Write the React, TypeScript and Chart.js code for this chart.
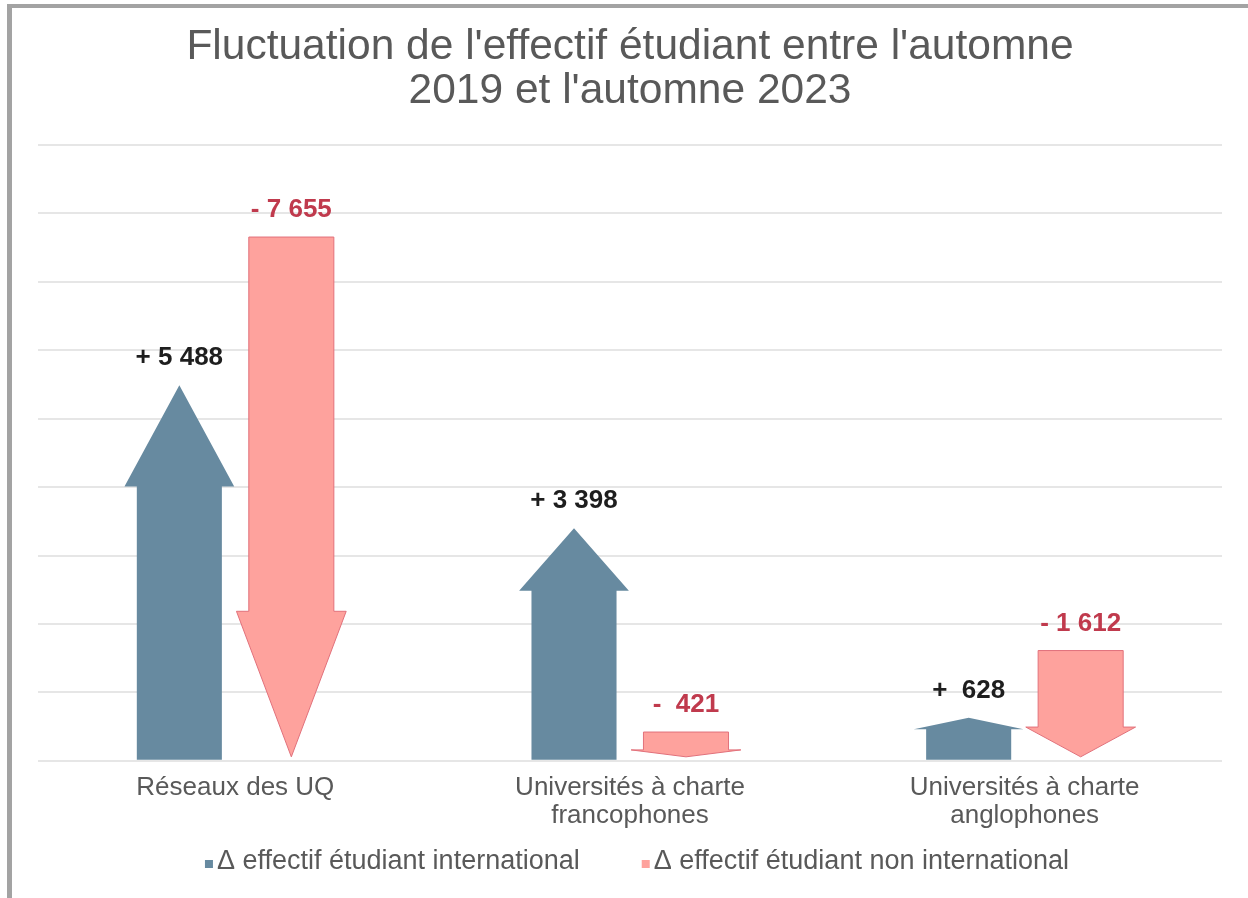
import React, { useEffect, useRef } from "react";
import { Chart, registerables } from "chart.js";

Chart.register(...registerables);

const TITLE_LINES = [
  "Fluctuation de l'effectif étudiant entre l'automne",
  "2019 et l'automne 2023",
];
const CATEGORIES = [
  ["Réseaux des UQ"],
  ["Universités à charte", "francophones"],
  ["Universités à charte", "anglophones"],
];
const SERIES_NAMES = [
  "Δ effectif étudiant international",
  "Δ effectif étudiant non international",
];
const DELTA_INTERNATIONAL = [5488, 3398, 628];
const DELTA_NON_INTERNATIONAL = [-7655, -421, -1612];
const Y_MIN = 0;
const Y_MAX = 9000;
const Y_STEP = 1000;

const SIGNED_SERIES = [DELTA_INTERNATIONAL, DELTA_NON_INTERNATIONAL];

const FONT = "'Liberation Sans', Arial, Helvetica, sans-serif";
const BLUE = "#678aa0";
const PINK = "#fea29d";
const PINK_EDGE = "#e2717b";
const LABEL_COLORS = ["#1e1e1e", "#c03a4d"];
const GREY_TEXT = "#595959";

function fmtDelta(v: number): string {
  const sign = v < 0 ? "-" : "+";
  const a = Math.abs(v);
  const th = Math.floor(a / 1000);
  const rest = a % 1000;
  const restStr = th > 0 ? String(rest).padStart(3, "0") : String(rest);
  return `${sign} ${th > 0 ? th : ""} ${restStr}`;
}

const framePlugin = {
  id: "frame",
  beforeDraw(chart: any) {
    const { ctx, width, height } = chart;
    ctx.save();
    ctx.fillStyle = "#ffffff";
    ctx.fillRect(0, 0, width, height);
    ctx.fillStyle = "#a3a3a3";
    ctx.fillRect(7, 4, width - 7, 4);
    ctx.fillRect(7, 4, 5, height - 4);
    ctx.restore();
  },
};

const arrowPlugin = {
  id: "arrows",
  beforeDatasetDraw(chart: any, args: any) {
    const { ctx } = chart;
    const up = args.index === 0;
    args.meta.data.forEach((el: any) => {
      const { x, y, base, width } = el.getProps(["x", "y", "base", "width"], true);
      const shaft = width * 0.775;
      ctx.save();
      ctx.beginPath();
      if (up) {
        const h = base - y;
        const hb = y + h * 0.27;
        ctx.moveTo(x - shaft / 2, base);
        ctx.lineTo(x - shaft / 2, hb);
        ctx.lineTo(x - width / 2, hb);
        ctx.lineTo(x, y);
        ctx.lineTo(x + width / 2, hb);
        ctx.lineTo(x + shaft / 2, hb);
        ctx.lineTo(x + shaft / 2, base);
        ctx.closePath();
        ctx.fillStyle = BLUE;
        ctx.fill();
      } else {
        const tip = base - 3;
        const h = tip - y;
        const hb = y + h * 0.72;
        ctx.moveTo(x - shaft / 2, y);
        ctx.lineTo(x + shaft / 2, y);
        ctx.lineTo(x + shaft / 2, hb);
        ctx.lineTo(x + width / 2, hb);
        ctx.lineTo(x, tip);
        ctx.lineTo(x - width / 2, hb);
        ctx.lineTo(x - shaft / 2, hb);
        ctx.closePath();
        ctx.fillStyle = PINK;
        ctx.fill();
        ctx.lineWidth = 1;
        ctx.strokeStyle = PINK_EDGE;
        ctx.stroke();
      }
      ctx.restore();
    });
    return false;
  },
  afterDraw(chart: any) {
    const { ctx } = chart;
    ctx.save();
    ctx.font = `bold 26px ${FONT}`;
    ctx.textAlign = "center";
    ctx.textBaseline = "middle";
    chart.data.datasets.forEach((ds: any, di: number) => {
      const meta = chart.getDatasetMeta(di);
      meta.data.forEach((el: any, i: number) => {
        const { x, y } = el.getProps(["x", "y"], true);
        ctx.fillStyle = LABEL_COLORS[di];
        ctx.fillText(fmtDelta(SIGNED_SERIES[di][i]), x, y - 27);
      });
    });
    ctx.restore();
  },
};

const legendPlugin = {
  id: "customLegend",
  afterDraw(chart: any) {
    const { ctx, chartArea } = chart;
    ctx.save();
    ctx.font = `27px ${FONT}`;
    ctx.textBaseline = "middle";
    ctx.textAlign = "left";
    const box = 8;
    const gap = 4;
    const itemGap = 62;
    const widths = chart.data.datasets.map((ds: any) => ctx.measureText(ds.label).width);
    const total = widths.reduce((s: number, w: number) => s + box + gap + w, 0) + itemGap * (widths.length - 1);
    const cy = 862;
    let x = (chartArea.left + chartArea.right) / 2 + 7 - total / 2;
    chart.data.datasets.forEach((ds: any, i: number) => {
      ctx.fillStyle = ds.backgroundColor;
      ctx.fillRect(x, cy - box / 2 + 2, box, box);
      x += box + gap;
      ctx.fillStyle = GREY_TEXT;
      ctx.fillText(ds.label, x, cy);
      x += widths[i] + itemGap;
    });
    ctx.restore();
  },
};

export default function App() {
  const ref = useRef<HTMLCanvasElement | null>(null);

  useEffect(() => {
    if (!ref.current) return;
    Chart.defaults.font.family = FONT;
    const chart = new Chart(ref.current, {
      type: "bar",
      data: {
        labels: CATEGORIES,
        datasets: [
          {
            label: SERIES_NAMES[0],
            data: DELTA_INTERNATIONAL.map((v) => Math.abs(v)),
            backgroundColor: BLUE,
            barPercentage: 0.98,
            categoryPercentage: 0.5675,
          },
          {
            label: SERIES_NAMES[1],
            data: DELTA_NON_INTERNATIONAL.map((v) => Math.abs(v)),
            backgroundColor: PINK,
            barPercentage: 0.98,
            categoryPercentage: 0.5675,
          },
        ],
      },
      options: {
        responsive: false,
        animation: false,
        layout: { padding: { left: 38, right: 26, top: 0, bottom: 55 } },
        plugins: {
          legend: { display: false },
          tooltip: { enabled: false },
          title: {
            display: true,
            text: TITLE_LINES,
            color: GREY_TEXT,
            font: { family: FONT, size: 42.5, weight: "normal", lineHeight: 1.02 },
            padding: { top: 26, bottom: 32.3 },
          },
        },
        scales: {
          x: {
            grid: { display: false, drawTicks: false },
            border: { display: false },
            ticks: {
              color: GREY_TEXT,
              font: { family: FONT, size: 26, lineHeight: 1.08 },
              padding: 13,
              maxRotation: 0,
              autoSkip: false,
            },
          },
          y: {
            min: Y_MIN,
            max: Y_MAX,
            grid: { color: "#e6e6e6", lineWidth: 2, drawTicks: false },
            border: { display: false },
            ticks: { display: false, stepSize: Y_STEP, padding: 0 },
          },
        },
      },
      plugins: [framePlugin, arrowPlugin, legendPlugin],
    });
    return () => chart.destroy();
  }, []);

  return (
    <div style={{ position: "absolute", left: 0, top: 0, width: 1248, height: 898, background: "#fff" }}>
      <canvas ref={ref} width={1248} height={898} style={{ display: "block" }} />
    </div>
  );
}
